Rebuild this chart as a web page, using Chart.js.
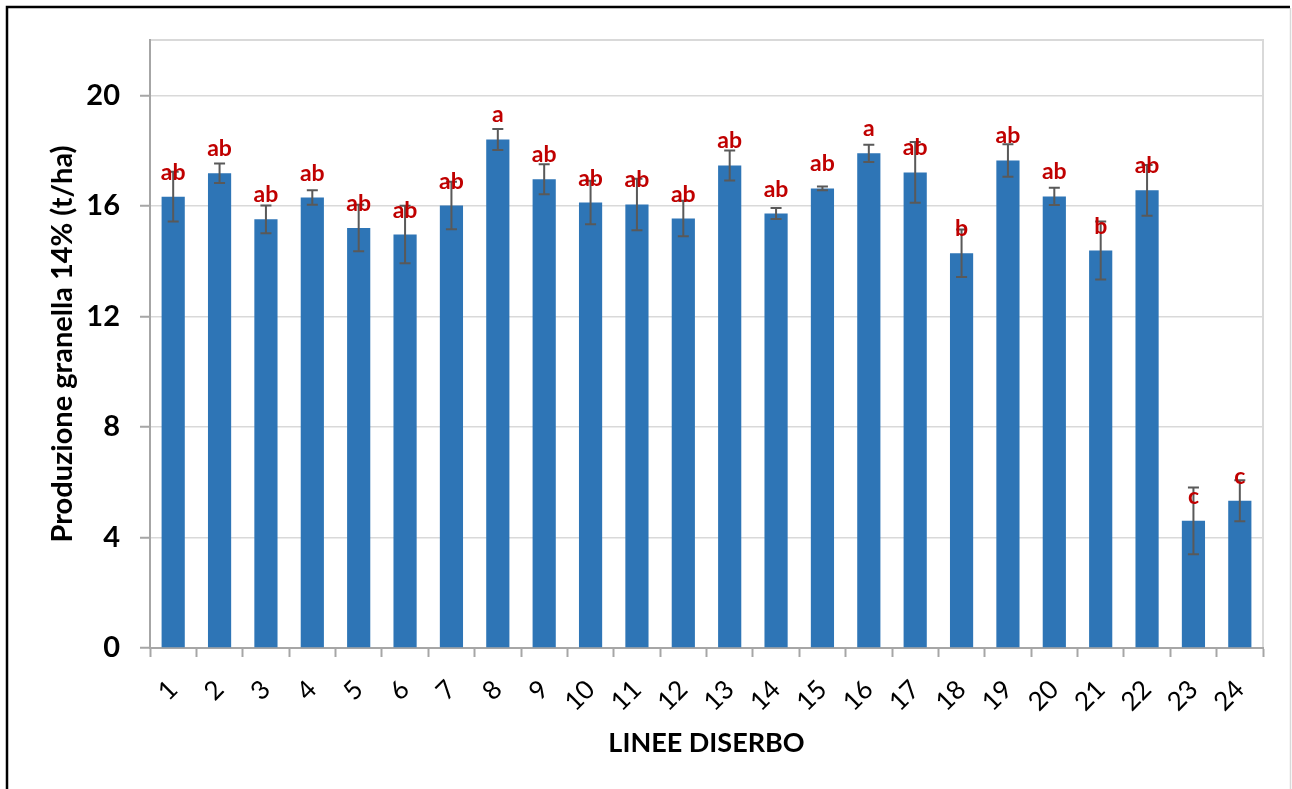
<!DOCTYPE html>
<html>
<head>
<meta charset="utf-8">
<script src="https://cdn.jsdelivr.net/npm/chart.js@4/dist/chart.umd.min.js"></script>
<style>
  html, body { margin: 0; padding: 0; background: #fff; }
  #wrap { position: relative; width: 1292px; height: 789px; }
  canvas { display: block; }
</style>
</head>
<body>
<div id="wrap"><canvas id="chart" width="1292" height="789"></canvas></div>
<script>
// Grain yield per weed-control line, with standard error and significance letters
const categories = ['1','2','3','4','5','6','7','8','9','10','11','12','13','14','15','16','17','18','19','20','21','22','23','24'];
const yields = [16.33, 17.18, 15.51, 16.30, 15.20, 14.96, 16.01, 18.40, 16.96, 16.12, 16.05, 15.54, 17.46, 15.72, 16.63, 17.90, 17.21, 14.28, 17.64, 16.34, 14.38, 16.56, 4.60, 5.33];
const stdErr = [0.90, 0.35, 0.50, 0.26, 0.84, 1.04, 0.86, 0.38, 0.54, 0.79, 0.93, 0.64, 0.54, 0.20, 0.07, 0.31, 1.10, 0.86, 0.59, 0.31, 1.05, 0.92, 1.21, 0.74];
const letters = ['ab','ab','ab','ab','ab','ab','ab','a','ab','ab','ab','ab','ab','ab','ab','a','ab','b','ab','ab','b','ab','c','c'];
const yTicks = [0, 4, 8, 12, 16, 20];

const FONT = 'Lato, "Open Sans", sans-serif';

// Outer frame plus the light top/right edges of the plot area
const framePlugin = {
  id: 'frame',
  beforeDraw(chart) {
    const { ctx, chartArea: a } = chart;
    ctx.save();
    ctx.fillStyle = '#fff';
    ctx.fillRect(0, 0, chart.width, chart.height);
    ctx.strokeStyle = '#000';
    ctx.lineWidth = 2.5;
    ctx.beginPath();
    ctx.moveTo(7, chart.height + 2);
    ctx.lineTo(7, 7);
    ctx.lineTo(1290, 7);
    ctx.stroke();
    ctx.strokeStyle = '#d9d9d9';
    ctx.lineWidth = 1.5;
    ctx.beginPath();
    ctx.moveTo(1290.5, 8);
    ctx.lineTo(1290.5, chart.height);
    ctx.stroke();
    ctx.lineWidth = 2;
    ctx.beginPath();
    ctx.moveTo(a.left, a.top);
    ctx.lineTo(a.right, a.top);
    ctx.lineTo(a.right, a.bottom);
    ctx.stroke();
    ctx.restore();
  }
};

// Error bars and significance letters, placed through the value scale
const annotatePlugin = {
  id: 'annotate',
  afterDatasetsDraw(chart) {
    const { ctx } = chart;
    const yScale = chart.scales.y;
    const meta = chart.getDatasetMeta(0);
    ctx.save();
    ctx.strokeStyle = '#595959';
    ctx.lineWidth = 2;
    meta.data.forEach((bar, i) => {
      const hi = yScale.getPixelForValue(yields[i] + stdErr[i]);
      const lo = yScale.getPixelForValue(yields[i] - stdErr[i]);
      const cap = 5.5;
      ctx.beginPath();
      ctx.moveTo(bar.x, hi); ctx.lineTo(bar.x, lo);
      ctx.moveTo(bar.x - cap, hi); ctx.lineTo(bar.x + cap, hi);
      ctx.moveTo(bar.x - cap, lo); ctx.lineTo(bar.x + cap, lo);
      ctx.stroke();
    });
    ctx.fillStyle = '#C00000';
    ctx.font = 'bold 23px ' + FONT;
    ctx.textAlign = 'center';
    ctx.textBaseline = 'alphabetic';
    meta.data.forEach((bar, i) => {
      ctx.fillText(letters[i], bar.x, bar.y - 17);
    });
    ctx.restore();
  }
};

new Chart(document.getElementById('chart'), {
  type: 'bar',
  data: {
    labels: categories,
    datasets: [{
      data: yields,
      backgroundColor: '#2E75B6',
      borderWidth: 0,
      categoryPercentage: 1.0,
      barPercentage: 0.5
    }]
  },
  options: {
    responsive: false,
    animation: false,
    layout: { padding: { top: 40, right: 29, left: 0, bottom: 0 } },
    plugins: { legend: { display: false }, tooltip: { enabled: false } },
    scales: {
      x: {
        offset: true,
        grid: {
          offset: true,
          drawOnChartArea: false,
          drawTicks: true,
          tickLength: 9,
          tickColor: '#a6a6a6',
          tickWidth: 2
        },
        border: { color: '#a6a6a6', width: 2 },
        ticks: {
          color: '#000',
          font: { family: FONT, size: 26 },
          minRotation: 45,
          maxRotation: 45,
          padding: 17,
          autoSkip: false
        },
        title: {
          display: true,
          text: 'LINEE DISERBO',
          color: '#000',
          font: { family: FONT, size: 27, weight: 'bold' },
          padding: { top: 0, bottom: 30 }
        },
        afterFit(scale) { scale.height = 141; }
      },
      y: {
        min: 0,
        max: 22,
        afterBuildTicks(scale) { scale.ticks = yTicks.map(v => ({ value: v })); },
        grid: {
          color: '#d9d9d9',
          lineWidth: 1.5,
          tickLength: 10,
          tickColor: '#a6a6a6',
          tickWidth: 2
        },
        border: { color: '#a6a6a6', width: 2 },
        ticks: {
          color: '#000',
          font: { family: FONT, size: 29, weight: 'bold' },
          padding: 20
        },
        title: {
          display: true,
          text: 'Produzione granella 14% (t/ha)',
          color: '#000',
          font: { family: FONT, size: 29, weight: 'bold' },
          padding: { top: 45, bottom: 0 }
        },
        afterFit(scale) { scale.width = 150; }
      }
    }
  },
  plugins: [framePlugin, annotatePlugin]
});
</script>
</body>
</html>
